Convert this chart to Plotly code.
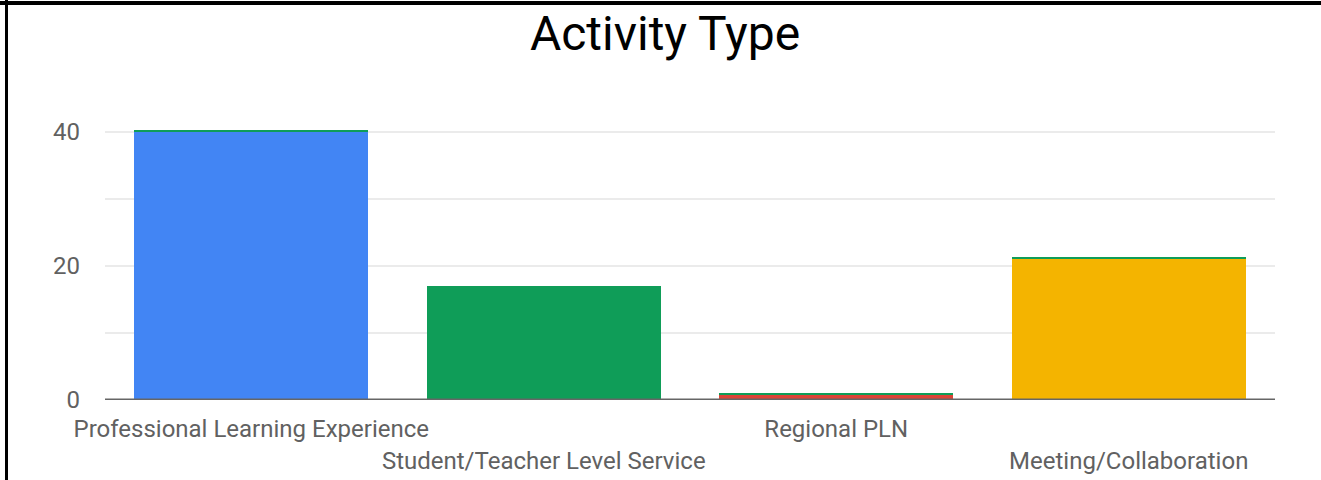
import plotly.graph_objects as go

categories = ["Professional Learning Experience", "Student/Teacher Level Service",
              "Regional PLN", "Meeting/Collaboration"]
main_values = [40, 17, 0.75, 21]
cap_values = [0.3, 0, 0.3, 0.3]
bar_colors = ["#4285F4", "#0F9D58", "#DB4437", "#F4B400"]
cap_color = "#0F9D58"
y_ticks = [0, 20, 40]
title_text = "Activity Type"

row1 = [categories[0], categories[2]]
row2 = [categories[1], categories[3]]

fig = go.Figure()
fig.add_trace(go.Bar(x=categories, y=main_values, marker=dict(color=bar_colors, line=dict(width=0)),
                     showlegend=False, hoverinfo="x+y"))
fig.add_trace(go.Bar(x=categories, y=cap_values, marker=dict(color=cap_color, line=dict(width=0)),
                     showlegend=False, hoverinfo="x+y"))
# invisible trace so the second (staggered) label axis is drawn
fig.add_trace(go.Scatter(x=categories, y=[0, 0, 0, 0], xaxis="x2", mode="markers",
                         marker=dict(opacity=0), showlegend=False, hoverinfo="skip"))

tickfont = dict(family="Roboto", size=24, color="#616161")

fig.update_layout(
    width=1321, height=480, autosize=False,
    barmode="stack", bargap=0.2,
    paper_bgcolor="white", plot_bgcolor="white",
    margin=dict(l=105, r=46, t=125, b=80),
    title=dict(text=title_text, x=665 / 1321, xanchor="center", xref="container",
               y=1 - 33 / 480, yanchor="middle", yref="container",
               font=dict(family="Roboto", size=48, color="#000000")),
    xaxis=dict(type="category", categoryorder="array", categoryarray=categories,
               range=[-0.5, 3.5], tickvals=row1, ticktext=row1, automargin=False,
               showgrid=False, showline=False, zeroline=False, ticks="",
               tickfont=tickfont, ticklabelstandoff=12, fixedrange=True),
    xaxis2=dict(type="category", categoryorder="array", categoryarray=categories,
                range=[-0.5, 3.5], overlaying="x", anchor="y", side="bottom",
                tickvals=row2, ticktext=row2, automargin=False,
                showgrid=False, showline=False, zeroline=False, ticks="",
                tickfont=tickfont, ticklabelstandoff=44, fixedrange=True),
    yaxis=dict(range=[0, 275 / 6.7], tickvals=y_ticks, ticktext=[str(v) for v in y_ticks],
               automargin=False,
               showgrid=False, zeroline=False, showline=False, ticks="",
               tickfont=tickfont, ticklabelstandoff=24, fixedrange=True),
)

# minor and major gridlines (every 10 units) drawn in data coordinates
for v in [10, 20, 30, 40]:
    fig.add_shape(type="line", xref="paper", yref="y", x0=0, x1=1, y0=v, y1=v,
                  line=dict(color="#EBEBEB", width=2), layer="below")
# baseline axis
fig.add_shape(type="line", xref="paper", yref="y", x0=0, x1=1, y0=0, y1=0,
              line=dict(color="#666666", width=3), layer="above")

# chart frame (top and left edges)
pw, ph = 1321 - 105 - 46, 480 - 125 - 80
fig.add_shape(type="line", xref="paper", yref="paper",
              x0=(0 - 105) / pw, x1=(1321 - 105) / pw,
              y0=(400 - 3) / ph, y1=(400 - 3) / ph,
              line=dict(color="#000000", width=4))
fig.add_shape(type="line", xref="paper", yref="paper",
              x0=(6.5 - 105) / pw, x1=(6.5 - 105) / pw,
              y0=(400 - 0) / ph, y1=(400 - 480) / ph,
              line=dict(color="#000000", width=3))

fig.write_html("out.html", config={"displayModeBar": False, "responsive": False},
               post_script="document.body.style.margin='0';")
